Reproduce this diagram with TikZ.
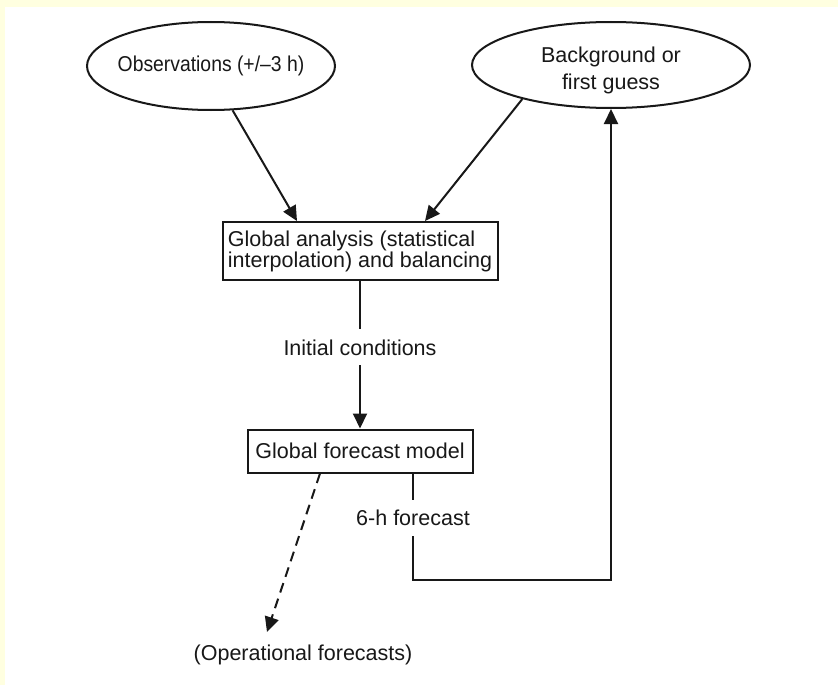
\documentclass[tikz,border=0pt]{standalone}
\usepackage{fontspec}
\usepackage{graphicx}
\setmainfont{Liberation Sans}
\usetikzlibrary{arrows.meta,calc,shapes.geometric}
\definecolor{paper}{RGB}{255,255,224}
\definecolor{ink}{RGB}{24,24,24}
\begin{document}
\begin{tikzpicture}[x=1pt,y=-1pt,
  every node/.style={text=ink, font=\fontsize{21.5}{21}\selectfont},
  oval/.style={ellipse, draw=ink, line width=2pt, inner ysep=0pt, inner xsep=-20pt, align=center},
  box/.style={rectangle, draw=ink, line width=2pt, inner sep=0pt},
  lbl/.style={fill=white, inner xsep=2pt, inner ysep=10pt},
  conn/.style={draw=ink, line width=2pt},
  arr/.style={conn, -{Triangle[length=15pt,width=14pt]}},
  dashline/.style={dash pattern=on 10pt off 6.5pt}]
% background
\fill[paper] (0,0) rectangle (838,685);
\fill[white] (5,7) rectangle (838,685);
\useasboundingbox (0,0) rectangle (838,685);
% nodes
\node[oval, minimum width=248pt, minimum height=88pt] (obs) at (211,66) {\scalebox{0.9}[1]{Observations (+/--3 h)}};
\node[oval, minimum width=278pt, minimum height=86pt] (bg) at (611,65) {\rule{0pt}{26pt}Background or\\[6pt]first guess};
\node[box, minimum width=275pt, minimum height=58pt, align=left] (ga) at (360,251)
  {Global analysis (statistical\\interpolation) and balancing};
\node[box, minimum width=225pt, minimum height=43pt] (fm) at (360,451) {Global forecast model};
\node (op) at (303,655) {(Operational forecasts)};
\coordinate (optip) at (267,632);
% connectors
\draw[arr] (obs.-64) -- ($(ga.north)+(-63,0)$);
\draw[arr] (bg.-159) -- ($(ga.north)+(65,0)$);
\draw[arr] (ga.south) -- node[lbl, pos=0.45] {Initial conditions} (fm.north);
\draw[arr, dashline] ($(fm.south)+(-40,0)$) -- (optip);
\draw[arr] ($(fm.south)+(53,0)$) -- node[lbl, pos=0.42] {6-h forecast} ++(0,106) -| (bg.south);
\end{tikzpicture}
\end{document}
